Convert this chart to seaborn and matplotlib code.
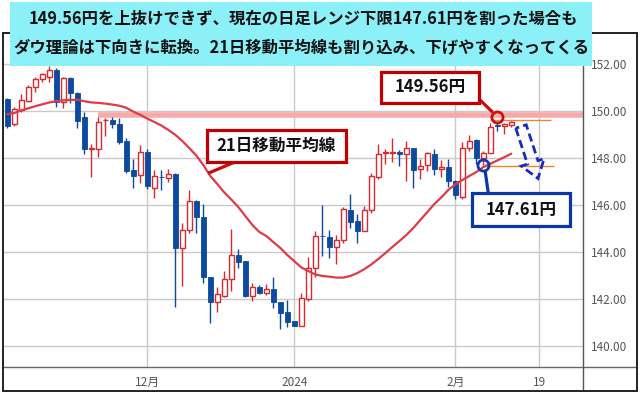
import numpy as np
import pandas as pd
import matplotlib
matplotlib.use("Agg")
import matplotlib.pyplot as plt
import seaborn as sns
from matplotlib.patches import Rectangle, Polygon
from matplotlib.lines import Line2D

# ---------------- data (daily candles, index 0 = 1 Dec 2023) ----------------
idx = list(range(-20, 53))
opens = [150.49, 149.42, 150.03, 150.43, 151.00, 151.34, 151.42, 151.73, 150.38, 151.38,
         150.74, 149.72, 148.38, 148.38, 149.59, 149.60, 149.43, 148.71, 147.48, 147.26,
         148.23, 146.72, 147.19, 147.15, 147.31, 144.14, 144.92, 146.17, 145.46, 142.91,
         141.87, 142.11, 142.83, 143.85, 143.60, 142.13, 142.49, 142.26, 142.40, 141.85,
         141.42, 141.04, 140.85, 141.97, 143.29, 144.68, 144.64, 144.21, 144.50, 145.77,
         145.31, 144.89, 145.77, 147.17, 148.20, 148.21, 148.26, 148.16, 148.40, 147.51,
         147.69, 148.16, 147.51, 147.62, 147.01, 146.34, 148.40, 148.75, 147.97, 148.21,
         149.38, 149.35, 149.39]
highs = [150.54, 150.14, 150.71, 151.09, 151.42, 151.62, 151.90, 151.80, 151.42, 151.42,
         150.78, 149.96, 148.58, 149.74, 149.68, 149.72, 149.68, 148.83, 147.94, 148.54,
         148.37, 147.48, 147.48, 147.51, 147.34, 145.21, 146.63, 146.20, 146.03, 142.94,
         142.51, 143.18, 144.95, 144.11, 143.60, 142.68, 142.58, 142.63, 142.91, 141.85,
         141.94, 141.06, 142.23, 143.76, 144.88, 145.99, 144.92, 144.71, 145.89, 146.46,
         145.60, 145.94, 147.36, 148.57, 148.36, 148.85, 148.33, 148.71, 148.43, 147.93,
         148.26, 148.36, 147.90, 147.93, 147.05, 148.66, 148.97, 148.78, 148.29, 149.46,
         149.56, 149.49, 149.55]
lows = [149.25, 149.36, 149.96, 150.36, 150.81, 151.23, 151.23, 150.17, 150.10, 150.31,
        149.25, 148.14, 147.19, 148.04, 148.92, 149.25, 148.58, 147.36, 146.72, 146.91,
        146.67, 146.27, 146.63, 146.95, 141.66, 142.55, 144.78, 144.78, 142.68, 140.98,
        141.45, 142.09, 142.33, 143.32, 142.09, 141.91, 142.19, 142.16, 141.59, 140.71,
        140.81, 140.83, 140.85, 141.91, 142.94, 143.83, 143.72, 143.46, 144.36, 145.00,
        144.38, 144.89, 145.66, 147.08, 147.73, 147.83, 147.65, 147.02, 146.70, 147.08,
        147.45, 147.26, 147.19, 146.74, 146.24, 146.24, 148.29, 147.73, 147.69, 148.19,
        149.15, 149.01, 149.30]
closes = [149.36, 150.06, 150.44, 151.00, 151.34, 151.55, 151.73, 150.38, 151.38, 150.74,
          149.57, 148.38, 148.42, 149.53, 149.62, 149.43, 148.68, 147.43, 147.23, 148.23,
          146.81, 147.22, 147.17, 147.31, 144.14, 144.92, 146.17, 145.46, 142.91, 141.87,
          142.19, 142.83, 143.85, 143.57, 142.11, 142.49, 142.26, 142.40, 141.85, 141.40,
          141.00, 140.85, 142.02, 143.29, 144.67, 144.65, 144.21, 144.50, 145.80, 145.28,
          144.89, 145.77, 147.22, 148.16, 148.23, 148.23, 148.14, 148.40, 147.48, 147.66,
          148.19, 147.51, 147.59, 147.01, 146.41, 148.40, 148.72, 147.97, 148.21, 149.32,
          149.34, 149.43, 149.53]
ma21 = [149.85, 149.90, 150.01, 150.10, 150.19, 150.27, 150.35, 150.40, 150.44, 150.46,
        150.46, 150.40, 150.35, 150.33, 150.30, 150.26, 150.21, 150.12, 149.96, 149.82,
        149.66, 149.52, 149.37, 149.18, 148.97, 148.71, 148.41, 148.09, 147.69, 147.22,
        146.88, 146.52, 146.22, 145.90, 145.52, 145.14, 144.84, 144.67, 144.41, 144.16,
        143.86, 143.60, 143.33, 143.18, 143.03, 142.97, 142.94, 142.90, 142.90, 142.97,
        143.09, 143.26, 143.46, 143.69, 143.94, 144.20, 144.45, 144.71, 145.01, 145.35,
        145.69, 146.03, 146.31, 146.63, 146.86, 147.05, 147.22, 147.39, 147.60, 147.74,
        147.88, 148.02, 148.17]

x_tick_pos = [0, 21, 44, 56]
x_tick_labels = ["12月", "2024", "2月", "19"]
y_ticks = [140, 142, 144, 146, 148, 150, 152]
range_high = 149.56
range_low = 147.61
resistance = 149.81
title_lines = ["149.56円を上抜けできず、現在の日足レンジ下限147.61円を割った場合も",
               "ダウ理論は下向きに転換。21日移動平均線も割り込み、下げやすくなってくる"]
ma_label = "21日移動平均線"

df = pd.DataFrame({"i": idx, "open": opens, "high": highs, "low": lows,
                   "close": closes, "ma": ma21})

# ---------------- style ----------------
sns.set_theme(style="white")
plt.rcParams["font.family"] = ["Noto Sans CJK JP", "DejaVu Sans"]

W, H = 640, 394
fig = plt.figure(figsize=(W / 100, H / 100), dpi=100)
fig.patch.set_facecolor("white")


def fx(x):
    return x / W


def fy(y):
    return 1 - y / H


ax = fig.add_axes([fx(3.3), fy(366.7), fx(583) - fx(3.3), fy(33.3) - fy(366.7)])
ax.set_xlim(-20.57, 62.24)
ax.set_ylim(139.11, 153.29)
for s in ax.spines.values():
    s.set_visible(False)

ax.set_xticks(x_tick_pos)
ax.set_xticklabels(x_tick_labels)
ax.set_yticks(y_ticks)
ax.set_yticklabels([f"{v:.2f}" for v in y_ticks])
ax.grid(True, color="#c9c9c9", lw=1.0, zorder=0)
ax.set_axisbelow(True)
ax.yaxis.tick_right()
ax.tick_params(axis="y", length=0, pad=6, labelsize=8.5, labelcolor="#555555")
ax.tick_params(axis="x", length=0, pad=7, labelsize=8.5, labelcolor="#555555")

RED = "#d9282e"
BLUE = "#0b4a9e"

# resistance band
ax.hlines(resistance, -7, 62.24, color="#f7aaaa", lw=4, zorder=1.5)

# candles
up = df[df.close >= df.open]
dn = df[df.close < df.open]
ax.vlines(up.i, up.low, up.high, color=RED, lw=1, zorder=2)
ax.vlines(dn.i, dn.low, dn.high, color=BLUE, lw=1, zorder=2)
ax.bar(up.i, np.maximum(up.close - up.open, 0.01), bottom=up.open, width=0.66,
       facecolor="white", edgecolor=RED, linewidth=1, zorder=3)
ax.bar(dn.i, np.maximum(dn.open - dn.close, 0.01), bottom=dn.close, width=0.76,
       facecolor=BLUE, edgecolor=BLUE, linewidth=0.6, zorder=3)

# moving average
sns.lineplot(data=df, x="i", y="ma", color="#e03a48", lw=1.6, ax=ax, zorder=4)
ax.set_xlabel("")
ax.set_ylabel("")

# range lines
ax.hlines(149.62, 49, 57.6, color="#e8872e", lw=1, zorder=2.5)
ax.hlines(147.65, 48.2, 58.1, color="#e8872e", lw=1, zorder=2.5)

# circles
ax.plot([50], [range_high + 0.18], "o", mfc="none", mec="#cc1111", ms=8, mew=2, zorder=6)
ax.plot([48], [range_low + 0.07], "o", mfc="none", mec="#1238aa", ms=8, mew=2, zorder=6)

# ---------------- frame lines ----------------
def fline(x0, y0, x1, y1, color, lw, z=5):
    fig.add_artist(Line2D([fx(x0), fx(x1)], [fy(y0), fy(y1)], color=color, lw=lw,
                          transform=fig.transFigure, zorder=z, solid_capstyle="butt"))


fline(3.3, 366.7, 637, 366.7, "#666666", 1)
fline(583, 33.3, 583, 391, "#555555", 1)
fig.add_artist(Rectangle((fx(3.3), fy(391)), fx(637) - fx(3.3), fy(33.3) - fy(391),
                         fill=False, edgecolor="#222222", lw=1.4,
                         transform=fig.transFigure, zorder=5))


# ---------------- annotations ----------------
def fbox(x0, y0, x1, y1, edge, lw, face="white", z=7):
    fig.add_artist(Rectangle((fx(x0), fy(y1)), fx(x1) - fx(x0), fy(y0) - fy(y1),
                             facecolor=face, edgecolor=edge, lw=lw,
                             transform=fig.transFigure, zorder=z))


# title
fbox(10, 2, 592, 66, "none", 0, face="#8cf0f9", z=8)
fig.text(fx(303), fy(18), title_lines[0], ha="center", va="center", fontsize=11.8,
         fontweight="bold", color="#111111", zorder=9)
fig.text(fx(301), fy(48), title_lines[1], ha="center", va="center", fontsize=11.8,
         fontweight="bold", color="#111111", zorder=9)

# MA label
fline(235, 162, 208, 173.3, "#c80c0c", 2.3, z=7)
fbox(206.7, 130, 345.7, 161.7, "#c00000", 2.3)
fig.text(fx(276), fy(146), ma_label, ha="center", va="center", fontsize=12,
         fontweight="bold", color="#111111", zorder=9)

# 149.56 label
fline(479.3, 99.3, 492.7, 112.3, "#c80c0c", 2.3, z=7)
fbox(381, 71.7, 479.3, 102.7, "#c00000", 2.3)
fig.text(fx(430), fy(87), f"{range_high:.2f}円", ha="center", va="center", fontsize=12,
         fontweight="bold", color="#111111", zorder=9)

# 147.61 label
fline(485, 170, 488.3, 193.3, "#0a36a8", 2.3, z=7)
fbox(471.7, 193.3, 570, 225.7, "#0a36a8", 2.3)
fig.text(fx(521), fy(209.5), f"{range_low:.2f}円", ha="center", va="center", fontsize=12,
         fontweight="bold", color="#111111", zorder=9)

# dashed block arrow
tail = np.array([521.0, 126.5])
tip = np.array([538.0, 178.5])
d = tip - tail
L = np.hypot(*d)
u = d / L
n = np.array([-u[1], u[0]])
sw, hw, hl = 5.5, 12.0, 17.0
base = tip - u * hl
pts = [tail + n * sw, base + n * sw, base + n * hw, tip,
       base - n * hw, base - n * sw, tail - n * sw]
fig.add_artist(Polygon([(fx(p[0]), fy(p[1])) for p in pts], closed=True, fill=False,
                       edgecolor="#1a2cbf", lw=2.0, linestyle=(0, (3, 1.5)),
                       transform=fig.transFigure, zorder=7))

fig.savefig("out.png", dpi=100)
